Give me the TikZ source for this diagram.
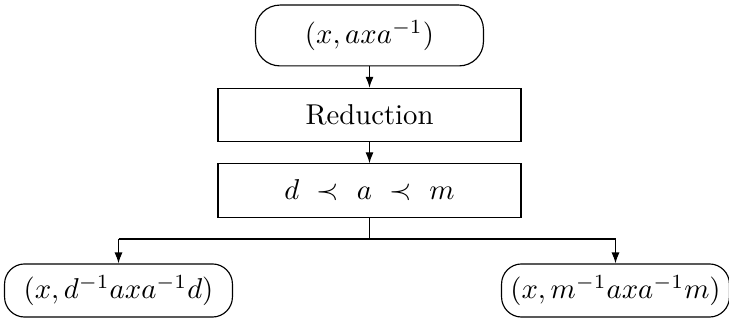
\documentclass[tikz,border=0pt]{standalone}
\usetikzlibrary{arrows.meta}
\begin{document}
\begin{tikzpicture}[x=0.3484pt,y=-0.3484pt,
  term/.style={draw, rectangle, rounded corners=7pt, inner sep=0pt,
               minimum width=79.4pt, minimum height=18.5pt},
  stepbox/.style={draw, rectangle, inner sep=0pt,
                  minimum width=105.6pt, minimum height=18.6pt},
  link/.style={-{Latex[length=3.8pt,width=2.8pt]}}]
\useasboundingbox (0,0) rectangle (729,320);
% main column
\node[term, minimum height=21.2pt, rounded corners=8.5pt] (start) at (369.5,35.5) {$(x, axa^{-1})$};
\node[stepbox] (red) at (369.5,115) {Reduction};
\node[stepbox] (ord) at (369.5,190.5) {$d\ \prec\ a\ \prec\ m$};
% the two branches
\node[term] (left) at (118.5,290.5) {$(x, d^{-1}axa^{-1}d)$};
\node[term] (right) at (615.5,290.5) {$(x, m^{-1}axa^{-1}m)$};
\coordinate (split) at (369.5,239);
\coordinate (lturn) at (left.north |- split);
\coordinate (rturn) at (right.north |- split);
% connectors
\draw[link] (start) -- (red);
\draw[link] (red) -- (ord);
\draw (ord.south) -- (split);
\draw (lturn) -- (rturn);
\draw[link] (lturn) -- (left.north);
\draw[link] (rturn) -- (right.north);
\end{tikzpicture}
\end{document}
